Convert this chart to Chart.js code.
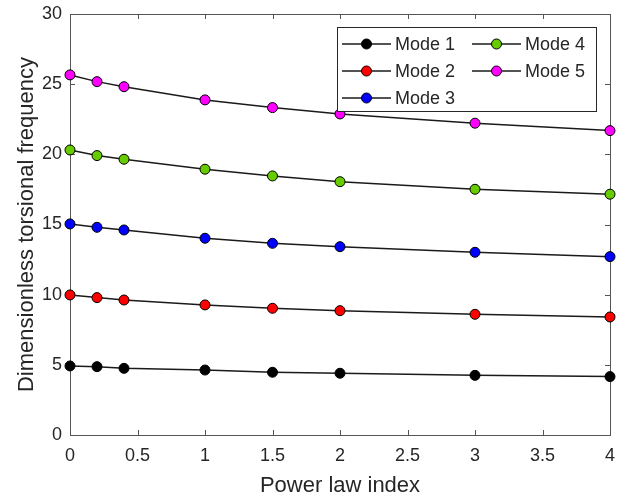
<!DOCTYPE html>
<html>
<head>
<meta charset="utf-8">
<script src="https://cdn.jsdelivr.net/npm/chart.js@4"></script>
<style>
  html, body { margin: 0; padding: 0; background: #fff; }
  #wrap { width: 627px; height: 499px; }
</style>
</head>
<body>
<div id="wrap"><canvas id="freqChart" width="627" height="499"></canvas></div>
<script>
// power law index (x) and dimensionless torsional frequency for each mode
const powerIndex = [0, 0.2, 0.4, 1, 1.5, 2, 3, 4];
const mode1 = [4.92, 4.87, 4.75, 4.63, 4.47, 4.40, 4.25, 4.16];
const mode2 = [9.98, 9.79, 9.62, 9.27, 9.03, 8.86, 8.60, 8.41];
const mode3 = [15.04, 14.80, 14.61, 14.02, 13.66, 13.42, 13.02, 12.71];
const mode4 = [20.31, 19.91, 19.65, 18.94, 18.46, 18.05, 17.51, 17.16];
const mode5 = [25.66, 25.18, 24.82, 23.88, 23.33, 22.88, 22.22, 21.69];

const modeNames = ['Mode 1', 'Mode 2', 'Mode 3', 'Mode 4', 'Mode 5'];
const modeColors = ['#000000', '#ff0000', '#0000ff', '#66cc00', '#ff00ff'];
const xTicks = [0, 0.5, 1, 1.5, 2, 2.5, 3, 3.5, 4];
const yTicks = [0, 5, 10, 15, 20, 25, 30];

const FONT = "'Liberation Sans', Arial, sans-serif";
const TEXT = '#262626';
const AXIS = '#555555';

function makeSet(name, color, vals) {
  return {
    label: name,
    data: vals.map((v, i) => ({x: powerIndex[i], y: v})),
    borderColor: '#1a1a1a',
    borderWidth: 1.5,
    pointRadius: 5,
    pointHoverRadius: 5,
    pointBackgroundColor: color,
    pointBorderColor: '#000000',
    pointBorderWidth: 1,
    tension: 0,
    clip: false
  };
}

const allModes = [mode1, mode2, mode3, mode4, mode5];
const datasets = allModes.map((vals, i) => makeSet(modeNames[i], modeColors[i], vals));

// box around the plot area plus inward ticks on all four sides (matlab look)
const boxPlugin = {
  id: 'boxTicks',
  beforeDatasetsDraw(chart) {
    const ctx = chart.ctx;
    const a = chart.chartArea;
    const xs = chart.scales.x, ys = chart.scales.y;
    const len = 5;
    ctx.save();
    ctx.strokeStyle = AXIS;
    ctx.lineWidth = 1;
    ctx.strokeRect(a.left + 0.5, a.top + 0.5, a.right - a.left, a.bottom - a.top);
    ctx.beginPath();
    xTicks.forEach(t => {
      const px = Math.round(xs.getPixelForValue(t)) + 0.5;
      ctx.moveTo(px, a.bottom); ctx.lineTo(px, a.bottom - len);
      ctx.moveTo(px, a.top); ctx.lineTo(px, a.top + len);
    });
    yTicks.forEach(t => {
      const py = Math.round(ys.getPixelForValue(t)) + 0.5;
      ctx.moveTo(a.left, py); ctx.lineTo(a.left + len, py);
      ctx.moveTo(a.right, py); ctx.lineTo(a.right - len, py);
    });
    ctx.stroke();
    ctx.restore();
  }
};

// legend in two columns, filled top to bottom like the original
const legendPlugin = {
  id: 'colLegend',
  afterDraw(chart) {
    const ctx = chart.ctx;
    const a = chart.chartArea;
    const bx = a.left + 267, by = a.top + 13, bw = 259, bh = 84;
    const rowH = 27, colW = 130;
    ctx.save();
    ctx.fillStyle = '#ffffff';
    ctx.fillRect(bx, by, bw, bh);
    ctx.strokeStyle = '#262626';
    ctx.lineWidth = 1;
    ctx.strokeRect(bx + 0.5, by + 0.5, bw, bh);
    ctx.font = '18px ' + FONT;
    ctx.textBaseline = 'middle';
    chart.data.datasets.forEach((ds, i) => {
      const col = Math.floor(i / 3), row = i % 3;
      const x0 = bx + 5 + col * colW;
      const y0 = by + 17 + row * rowH;
      ctx.strokeStyle = '#1a1a1a';
      ctx.lineWidth = 1.5;
      ctx.beginPath();
      ctx.moveTo(x0, y0); ctx.lineTo(x0 + 49, y0);
      ctx.stroke();
      ctx.beginPath();
      ctx.arc(x0 + 24.5, y0, 5, 0, Math.PI * 2);
      ctx.fillStyle = ds.pointBackgroundColor;
      ctx.fill();
      ctx.lineWidth = 1;
      ctx.strokeStyle = '#000';
      ctx.stroke();
      ctx.fillStyle = TEXT;
      ctx.fillText(ds.label, x0 + 53, y0 + 1);
    });
    ctx.restore();
  }
};

const ctx = document.getElementById('freqChart').getContext('2d');
const freqChart = new Chart(ctx, {
  type: 'line',
  data: { datasets: datasets },
  options: {
    responsive: false,
    animation: false,
    events: [],
    layout: { padding: { top: 14, right: 17, left: 0, bottom: 0 } },
    plugins: {
      legend: { display: false },
      tooltip: { enabled: false }
    },
    scales: {
      x: {
        type: 'linear',
        min: 0,
        max: 4,
        afterBuildTicks: s => { s.ticks = xTicks.map(v => ({value: v})); },
        afterFit: s => { s.height = 64; s.paddingLeft = 0; s.paddingRight = 0; },
        ticks: {
          color: TEXT, padding: 10, maxRotation: 0,
          font: { family: FONT, size: 18 },
          callback: v => String(v)
        },
        grid: { display: false, drawTicks: false },
        border: { display: false },
        title: {
          display: true,
          text: 'Power law index',
          color: TEXT,
          font: { family: FONT, size: 22 },
          padding: { top: 0, bottom: 0 }
        }
      },
      y: {
        min: 0,
        max: 30,
        afterBuildTicks: s => { s.ticks = yTicks.map(v => ({value: v})); },
        afterFit: s => { s.width = 70; s.paddingTop = 0; s.paddingBottom = 0; },
        ticks: {
          color: TEXT, padding: 8,
          font: { family: FONT, size: 18 },
          callback: v => String(v)
        },
        grid: { display: false, drawTicks: false },
        border: { display: false },
        title: {
          display: true,
          text: 'Dimensionless torsional frequency',
          color: TEXT,
          font: { family: FONT, size: 22 },
          padding: { top: 14, bottom: 0 }
        }
      }
    }
  },
  plugins: [boxPlugin, legendPlugin]
});
</script>
</body>
</html>
